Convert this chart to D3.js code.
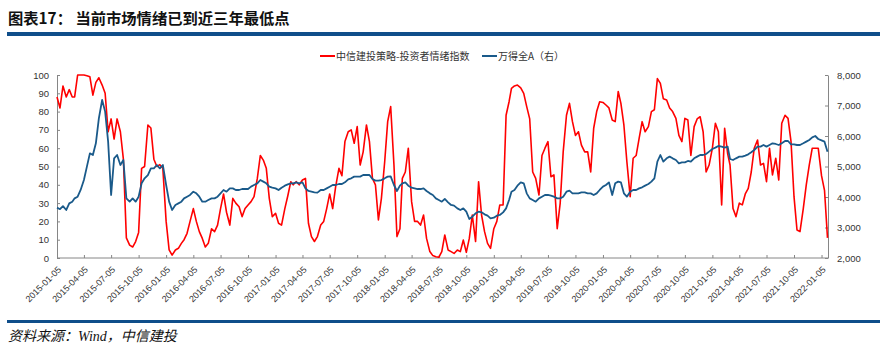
<!DOCTYPE html>
<html><head><meta charset="utf-8">
<script src="https://cdn.jsdelivr.net/npm/d3@7"></script>
<style>body{margin:0;background:#fff;} svg{display:block;}</style>
</head><body><svg id="c" width="887" height="358"></svg>
<script>
// ---- data ----
const months = [
 "2015-01","2015-02","2015-03","2015-04","2015-05","2015-06","2015-07","2015-08","2015-09","2015-10","2015-11","2015-12",
 "2016-01","2016-02","2016-03","2016-04","2016-05","2016-06","2016-07","2016-08","2016-09","2016-10","2016-11","2016-12",
 "2017-01","2017-02","2017-03","2017-04","2017-05","2017-06","2017-07","2017-08","2017-09","2017-10","2017-11","2017-12",
 "2018-01","2018-02","2018-03","2018-04","2018-05","2018-06","2018-07","2018-08","2018-09","2018-10","2018-11","2018-12",
 "2019-01","2019-02","2019-03","2019-04","2019-05","2019-06","2019-07","2019-08","2019-09","2019-10","2019-11","2019-12",
 "2020-01","2020-02","2020-03","2020-04","2020-05","2020-06","2020-07","2020-08","2020-09","2020-10","2020-11","2020-12",
 "2021-01","2021-02","2021-03","2021-04","2021-05","2021-06","2021-07","2021-08","2021-09","2021-10","2021-11","2021-12",
 "2022-01"];
const days = ["05","15","25"];

// 中信建投策略-投资者情绪指数 (left axis), three readings per month
const sentiment = [
 88,82,94, 88,92,88, 88,100,100, 100,99.6,99, 89,96,98.5, 94.5,90,69, 76,65,76, 69,54,11, 7,6,9, 14,49,50, 72.7,71,54, 50,51,49,
 20,4.4,1.6, 4.4,5.3,8, 10,13.5,20, 27,20,14.4, 10.7,6,8, 16,14.4,18, 27,35,25, 18,32.6,30, 28,22.6,27, 29,30.8,33.5, 43.5,56,53.5, 49,32.6,22.6,
 24.4,19,18, 27,34,41.7, 40,41.7,40, 42.6,43.5,19, 11.7,9,11.7, 18,20,27, 35,27,39, 49,45,63.6, 69,70,62.7, 71.8,50.8,58, 72.7,63.6,43.5, 40,20.8,32.6,
 52.6,74.5,82.7, 50.8,11.7,16, 43.5,47,60, 30.8,20,20, 18,23.5,10.7, 3.5,1.3,0.7, 0.4,3.5,12.6, 4.4,3.5,2.5, 4.4,3.5,9.8, 3.1,10.7,23.5, 9,41.7,23.5, 14.4,8,5.3,
 16,20,29, 29,78,85.4, 92.7,94,94.5, 93,90,82.7, 76,47,43.5, 34.4,56,60, 63.6,44.4,45.4, 16,30,58, 78,84.5,74.5, 67,69,61.7, 58,58,47, 70.9,80,85.4,
 85,83.6,82, 75.4,74.5,91, 84.5,72.7,52.6, 33.5,54.5,56, 65.4,74.5,69, 71.8,80,81, 98,95.4,87, 86.3,82,80, 76.3,67,63.6, 76.3,75.4,56, 71.8,76,77.2, 69,47,50.8,
 60,73.6,69, 29,70.9,57, 50.8,27,22.6, 30,29,35, 38,47,60, 64.5,50.8,51.7, 41.7,60,45.4, 54.5,42.6,73.6, 78,76.3,63.6, 33.5,15.3,14.4, 27,40,50.8, 60,60,60,
 45,37,11];

// 万得全A (right axis), three readings per month
const windA = [
 3650,3600,3700, 3574,3792,3847, 3956,4011,4230, 4557,4995,5432, 5377,5760,6580, 7180,6800,5814, 4066,5268,5377, 5050,5213,3956, 3847,3956,3847, 4011,4448,4612, 4721,4940,4940, 5050,4940,5050,
 4393,3847,3574, 3738,3792,3847, 3956,4011,4066, 4175,4120,4011, 3847,3847,3902, 3956,3956,4011, 4120,4230,4175, 4284,4284,4230, 4230,4262,4262, 4262,4339,4393, 4448,4557,4503, 4448,4339,4306,
 4284,4230,4306, 4372,4415,4448, 4448,4481,4448, 4481,4284,4197, 4175,4153,4142, 4230,4230,4284, 4339,4393,4393, 4426,4426,4481, 4580,4612,4667, 4667,4667,4721, 4721,4721,4590, 4536,4536,4557,
 4612,4667,4678, 4393,4197,4372, 4448,4481,4372, 4306,4284,4262, 4262,4284,4197, 4120,4066,3956, 3902,3847,3935, 3825,3738,3716, 3628,3574,3628, 3519,3279,3355, 3465,3519,3497, 3432,3388,3301,
 3323,3388,3410, 3497,3628,3902, 4175,4230,4372, 4481,4448,4120, 3956,3902,3847, 3956,4011,4066, 4066,4044,4011, 3956,3956,4011, 4175,4208,4120, 4120,4120,4153, 4153,4120,4120, 4066,4120,4230,
 4339,4393,4481, 4066,4448,4503, 4481,4120,4011, 4175,4230,4230, 4284,4317,4372, 4426,4503,4612, 5159,5377,5159, 5268,5323,5268, 5213,5104,5137, 5137,5181,5159, 5268,5323,5377, 5377,5410,5487,
 5574,5618,5672, 5651,5618,5651, 5246,5213,5268, 5323,5323,5356, 5399,5465,5541, 5651,5651,5705, 5651,5705,5760, 5738,5705,5760, 5836,5836,5727, 5727,5705,5705, 5760,5815,5869, 5957,6000,5902,
 5858,5815,5487];

const leftTicks = [0,10,20,30,40,50,60,70,80,90,100];
const rightTicks = [2000,3000,4000,5000,6000,7000,8000];
const xTickLabels = [
 "2015-01-05","2015-04-05","2015-07-05","2015-10-05","2016-01-05","2016-04-05","2016-07-05","2016-10-05",
 "2017-01-05","2017-04-05","2017-07-05","2017-10-05","2018-01-05","2018-04-05","2018-07-05","2018-10-05",
 "2019-01-05","2019-04-05","2019-07-05","2019-10-05","2020-01-05","2020-04-05","2020-07-05","2020-10-05",
 "2021-01-05","2021-04-05","2021-07-05","2021-10-05","2022-01-05"];
const seriesNames = ["中信建投策略-投资者情绪指数","万得全A（右）"];
const seriesColors = ["#ff0000","#1a5a8a"];
const titleText = "图表17：  当前市场情绪已到近三年最低点";
const sourceText = "资料来源：Wind，中信建投";

// ---- drawing ----
const parse = d3.timeParse("%Y-%m-%d");
const dates = months.flatMap(m => days.map(d => parse(m + "-" + d)));
const svg = d3.select("#c");
const L = 57, R = 828, T = 75, B = 258;
const axisColor = "#868686", textColor = "#333";
const barColor = "#0f4e8a";

const x = d3.scaleTime().domain([dates[0], dates[dates.length-1]]).range([L, 827.5]);
const yL = d3.scaleLinear().domain([0,100]).range([B, T]);
const yR = d3.scaleLinear().domain([2000,8000]).range([B, T]);

// title
svg.append("text").attr("x", 8).attr("y", 24)
  .attr("font-family", "'Noto Sans CJK SC', sans-serif").attr("font-weight", "bold")
  .attr("font-size", 15.3).attr("fill", "#111").text(titleText);
svg.append("rect").attr("x", 7).attr("y", 32).attr("width", 873).attr("height", 4).attr("fill", barColor);
svg.append("rect").attr("x", 7).attr("y", 320).attr("width", 873).attr("height", 3).attr("fill", barColor);
svg.append("text").attr("x", 8).attr("y", 341)
  .attr("font-family", "'Liberation Serif', 'Noto Sans CJK SC', serif").attr("font-style", "italic")
  .attr("font-size", 14).attr("fill", "#111").text(sourceText);

// axes
function styleAxis(g, fs) {
  g.selectAll(".domain").attr("stroke", axisColor);
  g.selectAll(".tick line").attr("stroke", axisColor);
  g.selectAll("text").attr("fill", textColor).attr("font-size", fs)
    .attr("font-family", "'Liberation Sans', Arial, sans-serif");
}
const gL = svg.append("g").attr("transform", `translate(${L},0)`)
  .call(d3.axisLeft(yL).tickValues(leftTicks).tickSize(-3).tickSizeOuter(0).tickPadding(8));
styleAxis(gL, 9.5);
const gR = svg.append("g").attr("transform", `translate(${R},0)`)
  .call(d3.axisRight(yR).tickValues(rightTicks).tickSize(-3).tickSizeOuter(0).tickPadding(9));
styleAxis(gR, 9.5);
const gX = svg.append("g").attr("transform", `translate(0,${B})`)
  .call(d3.axisBottom(x).tickValues(xTickLabels.map(parse)).tickSize(-3).tickSizeOuter(0)
    .tickFormat(d3.timeFormat("%Y-%m-%d")));
gX.select(".domain").attr("d", `M${L},0H${R}`);
styleAxis(gX, 9);
gX.selectAll("text").attr("y", 0).attr("dy", "0.35em").attr("text-anchor", "end")
  .attr("transform", "translate(2,10) rotate(-45)");

// lines
const lineL = d3.line().x((d,i) => x(dates[i])).y(d => yL(d));
const lineR = d3.line().x((d,i) => x(dates[i])).y(d => yR(d));
svg.append("path").datum(sentiment).attr("d", lineL).attr("fill", "none")
  .attr("stroke", seriesColors[0]).attr("stroke-width", 1.6).attr("stroke-linejoin", "round");
svg.append("path").datum(windA).attr("d", lineR).attr("fill", "none")
  .attr("stroke", seriesColors[1]).attr("stroke-width", 1.8).attr("stroke-linejoin", "round");

// legend
const legendX = [320, 482];
seriesNames.forEach((n, i) => {
  const g = svg.append("g").attr("transform", `translate(${legendX[i]},56)`);
  g.append("line").attr("x1", 0).attr("x2", 15).attr("y1", 0).attr("y2", 0)
    .attr("stroke", seriesColors[i]).attr("stroke-width", 2);
  g.append("text").attr("x", 16).attr("y", 0).attr("dy", "0.35em")
    .attr("font-family", "'Noto Sans CJK SC', sans-serif").attr("font-size", 10)
    .attr("fill", textColor).text(n);
});
</script></body></html>
